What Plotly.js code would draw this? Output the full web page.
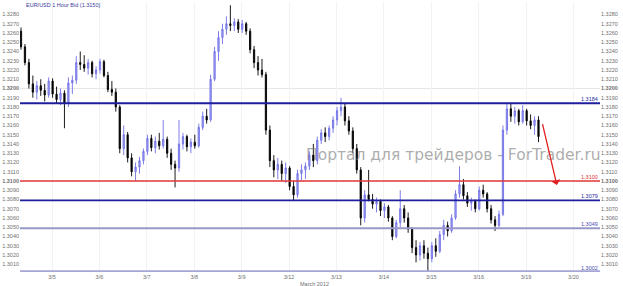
<!DOCTYPE html>
<html><head><meta charset="utf-8">
<script src="https://cdn.plot.ly/plotly-3.0.1.min.js"></script>
<style>html,body{margin:0;padding:0;background:#fff}#chart{width:623px;height:286px}</style>
</head><body><div id="chart"></div>
<script>
// Trading-day axis: 0 = 3/5, one unit per trading day, 2-hour candles
const dayLabels = ['3/5','3/6','3/7','3/8','3/9','3/12','3/13','3/14','3/15','3/16','3/19','3/20'];
const dayTicks  = [0,1,2,3,4,5,6,7,8,9,10,11];
const T0 = -0.654, STEP = 1/12;

const open = [
1.3262,1.3245,1.3228,1.3205,1.3196,1.3203,1.3198,1.3193,1.3208,1.3194,
1.3188,1.3195,1.3184,1.3206,1.3209,1.3228,1.3226,1.3222,1.3228,1.3216,
1.3220,1.3229,1.3214,1.3199,1.3196,1.3180,1.3135,1.3150,1.3125,1.3110,
1.3115,1.3122,1.3132,1.3146,1.3136,1.3143,1.3138,1.3145,1.3130,1.3118,
1.3114,1.3140,1.3148,1.3137,1.3142,1.3138,1.3158,1.3170,1.3166,1.3210,
1.3240,1.3255,1.3264,1.3270,1.3268,1.3272,1.3264,1.3270,1.3262,1.3242,
1.3228,1.3220,1.3215,1.3155,1.3122,1.3112,1.3118,1.3108,1.3114,1.3094,
1.3085,1.3108,1.3112,1.3116,1.3128,1.3122,1.3144,1.3152,1.3148,1.3157,
1.3166,1.3176,1.3180,1.3165,1.3154,1.3135,1.3112,1.3060,1.3085,1.3080,
1.3075,1.3078,1.3068,1.3072,1.3060,1.3040,1.3055,1.3070,1.3060,1.3048,
1.3028,1.3020,1.3030,1.3022,1.3016,1.3030,1.3024,1.3042,1.3052,1.3046,
1.3060,1.3086,1.3096,1.3084,1.3076,1.3078,1.3070,1.3090,1.3086,1.3070,
1.3058,1.3052,1.3064,1.3155,1.3178,1.3170,1.3176,1.3164,1.3176,1.3165,
1.3160,1.3166];
const high = [
1.3266,1.3248,1.3232,1.3214,1.3208,1.3210,1.3205,1.3212,1.3211,1.3202,
1.3200,1.3198,1.3212,1.3214,1.3235,1.3240,1.3236,1.3232,1.3230,1.3224,
1.3232,1.3231,1.3218,1.3208,1.3200,1.3182,1.3160,1.3153,1.3130,1.3120,
1.3126,1.3135,1.3150,1.3150,1.3148,1.3152,1.3166,1.3148,1.3135,1.3122,
1.3166,1.3152,1.3150,1.3146,1.3150,1.3162,1.3175,1.3178,1.3215,1.3245,
1.3262,1.3270,1.3278,1.3290,1.3276,1.3275,1.3274,1.3272,1.3265,1.3246,
1.3235,1.3232,1.3218,1.3160,1.3128,1.3125,1.3122,1.3120,1.3116,1.3100,
1.3112,1.3118,1.3120,1.3132,1.3140,1.3148,1.3156,1.3158,1.3160,1.3170,
1.3180,1.3190,1.3184,1.3170,1.3158,1.3140,1.3115,1.3090,1.3112,1.3086,
1.3082,1.3080,1.3076,1.3074,1.3062,1.3058,1.3090,1.3074,1.3066,1.3050,
1.3036,1.3034,1.3036,1.3028,1.3034,1.3038,1.3046,1.3058,1.3056,1.3064,
1.3090,1.3116,1.3102,1.3088,1.3082,1.3080,1.3094,1.3096,1.3088,1.3074,
1.3062,1.3068,1.3160,1.3185,1.3184,1.3180,1.3178,1.3182,1.3178,1.3172,
1.3170,1.3170];
const low = [
1.3242,1.3225,1.3200,1.3190,1.3188,1.3192,1.3186,1.3190,1.3190,1.3184,
1.3182,1.3157,1.3180,1.3194,1.3205,1.3220,1.3218,1.3215,1.3212,1.3210,
1.3216,1.3212,1.3196,1.3192,1.3175,1.3130,1.3128,1.3120,1.3105,1.3100,
1.3108,1.3118,1.3128,1.3132,1.3130,1.3134,1.3135,1.3125,1.3112,1.3093,
1.3110,1.3134,1.3132,1.3130,1.3135,1.3136,1.3155,1.3162,1.3164,1.3208,
1.3230,1.3248,1.3258,1.3262,1.3262,1.3260,1.3260,1.3258,1.3238,1.3222,
1.3214,1.3212,1.3150,1.3115,1.3104,1.3102,1.3100,1.3098,1.3090,1.3079,
1.3082,1.3100,1.3102,1.3112,1.3115,1.3118,1.3140,1.3142,1.3144,1.3152,
1.3160,1.3170,1.3160,1.3150,1.3130,1.3108,1.3052,1.3055,1.3078,1.3070,
1.3066,1.3062,1.3060,1.3056,1.3036,1.3038,1.3050,1.3055,1.3044,1.3022,
1.3012,1.3014,1.3016,1.3002,1.3012,1.3018,1.3022,1.3036,1.3040,1.3044,
1.3058,1.3082,1.3080,1.3072,1.3068,1.3066,1.3068,1.3082,1.3066,1.3054,
1.3046,1.3050,1.3062,1.3150,1.3164,1.3162,1.3160,1.3162,1.3160,1.3156,
1.3150,1.3142];
const close = [
1.3245,1.3228,1.3205,1.3196,1.3203,1.3198,1.3193,1.3208,1.3194,1.3188,
1.3195,1.3184,1.3206,1.3209,1.3228,1.3226,1.3222,1.3228,1.3216,1.3220,
1.3229,1.3214,1.3199,1.3196,1.3180,1.3135,1.3150,1.3125,1.3110,1.3115,
1.3122,1.3132,1.3146,1.3136,1.3143,1.3138,1.3145,1.3130,1.3118,1.3114,
1.3140,1.3148,1.3137,1.3142,1.3138,1.3158,1.3170,1.3166,1.3210,1.3240,
1.3255,1.3264,1.3270,1.3268,1.3272,1.3264,1.3270,1.3262,1.3242,1.3228,
1.3220,1.3215,1.3155,1.3122,1.3112,1.3118,1.3108,1.3114,1.3094,1.3085,
1.3108,1.3112,1.3116,1.3128,1.3122,1.3144,1.3152,1.3148,1.3157,1.3166,
1.3176,1.3180,1.3165,1.3154,1.3135,1.3112,1.3060,1.3085,1.3080,1.3075,
1.3078,1.3068,1.3072,1.3060,1.3040,1.3055,1.3070,1.3060,1.3048,1.3028,
1.3020,1.3030,1.3022,1.3016,1.3030,1.3024,1.3042,1.3052,1.3046,1.3060,
1.3086,1.3096,1.3084,1.3076,1.3078,1.3070,1.3090,1.3086,1.3070,1.3058,
1.3052,1.3064,1.3155,1.3178,1.3170,1.3176,1.3164,1.3176,1.3165,1.3160,
1.3166,1.3148];

const yTicks = [1.3010,1.3020,1.3030,1.3040,1.3050,1.3060,1.3070,1.3080,1.3090,1.3100,
1.3110,1.3120,1.3130,1.3140,1.3150,1.3160,1.3170,1.3180,1.3190,1.3200,
1.3210,1.3220,1.3230,1.3240,1.3250,1.3260,1.3270,1.3280];
const boldTicks = [1.3100, 1.3200];
const gridLevels = [1.3100, 1.3200];

const levels = [1.3184, 1.3100, 1.3079, 1.3049, 1.3002];
const levelLabels = ['1.3184','1.3100','1.3079','1.3049','1.3002'];
const levelColors = ['#1e1e9c','#e23a3a','#1e1e9c','#9898c8','#a6a6d6'];
const levelWidths = [2, 1.5, 1.6, 2, 3];
const levelTextColors = ['#2a2aa6','#e03030','#2a2aa6','#4a4ab0','#4a4ab0'];

const titleText = 'EUR/USD 1 Hour Bid (1.3150)';
const monthText = 'March 2012';
const watermark = 'Портал для трейдеров - ForTrader.ru';
const arrowFrom = {x: 10.34, y: 1.3163};
const arrowTo = {x: 10.65, y: 1.30957};

const x = close.map((_, i) => T0 + i * STEP);
const yRange = [1.30016, 1.32935];
const tickText = yTicks.map(v => boldTicks.some(b => Math.abs(b - v) < 1e-9) ? '<b>' + v.toFixed(4) + '</b>' : v.toFixed(4));

const traces = [{
  type: 'candlestick', x: x, open: open, high: high, low: low, close: close,
  increasing: {line: {color: '#6f6fe6', width: 0.9}, fillcolor: '#a9a9f2'},
  decreasing: {line: {color: '#000000', width: 0.9}, fillcolor: '#000000'},
  whiskerwidth: 0, hoverinfo: 'skip', showlegend: false
}, {
  type: 'scatter', x: [x[0]], y: [close[0]], yaxis: 'y2', mode: 'markers',
  marker: {opacity: 0}, hoverinfo: 'skip', showlegend: false
}];

const shapes = [];
gridLevels.forEach(v => shapes.push({type: 'line', xref: 'paper', x0: 0, x1: 1, yref: 'y', y0: v, y1: v,
  line: {color: '#e6e6e6', width: 1}, layer: 'below'}));
levels.forEach((v, i) => shapes.push({type: 'line', xref: 'paper', x0: 0, x1: 1, yref: 'y', y0: v, y1: v,
  line: {color: levelColors[i], width: levelWidths[i]}, layer: 'above'}));

const font = {family: 'Liberation Sans, Arial, sans-serif', size: 5.5, color: '#707070'};
const annotations = [
  {xref: 'paper', yref: 'paper', x: 0.007, y: 0.99, xanchor: 'left', yanchor: 'middle', showarrow: false,
   text: titleText, font: {family: font.family, size: 5.5, color: '#3a3a9a'}},
  {xref: 'paper', yref: 'paper', x: 0.479, y: -0.045, xanchor: 'left', yanchor: 'middle', showarrow: false,
   text: monthText, font: {family: font.family, size: 5.5, color: '#707070'}},
  {xref: 'paper', yref: 'paper', x: 0.7466, y: 0.433, xanchor: 'center', yanchor: 'middle', showarrow: false,
   text: watermark, font: {family: 'DejaVu Sans, sans-serif', size: 15.5, color: 'rgba(120,120,120,0.62)'}},
  {x: arrowTo.x, y: arrowTo.y, ax: arrowFrom.x, ay: arrowFrom.y, axref: 'x', ayref: 'y', xref: 'x', yref: 'y',
   showarrow: true, text: '', arrowcolor: '#e02020', arrowwidth: 1.3, arrowhead: 1, arrowsize: 1.2}
];
levels.forEach((v, i) => annotations.push({xref: 'paper', yref: 'y', x: 1, y: v, xanchor: 'right', yanchor: 'bottom',
  showarrow: false, text: levelLabels[i], font: {family: font.family, size: 5.5, color: levelTextColors[i]}, yshift: -1}));

const yBase = {range: yRange, tickmode: 'array', tickvals: yTicks, ticktext: tickText, tickfont: font,
  showgrid: false, zeroline: false, ticks: '', fixedrange: true};

const layout = {
  width: 623, height: 286, margin: {l: 20, r: 23, t: 2, b: 14},
  paper_bgcolor: '#ffffff', plot_bgcolor: '#ffffff', showlegend: false, boxgap: 0.55,
  xaxis: {range: [-0.675, 11.56], tickmode: 'array', tickvals: dayTicks, ticktext: dayLabels, tickfont: font,
    showgrid: true, gridcolor: '#f2f2f2', zeroline: false, ticks: '', rangeslider: {visible: false}, fixedrange: true},
  yaxis: Object.assign({side: 'left'}, yBase),
  yaxis2: Object.assign({side: 'right', overlaying: 'y'}, yBase),
  shapes: shapes, annotations: annotations
};

Plotly.newPlot('chart', traces, layout, {staticPlot: true, displayModeBar: false});
</script></body></html>
